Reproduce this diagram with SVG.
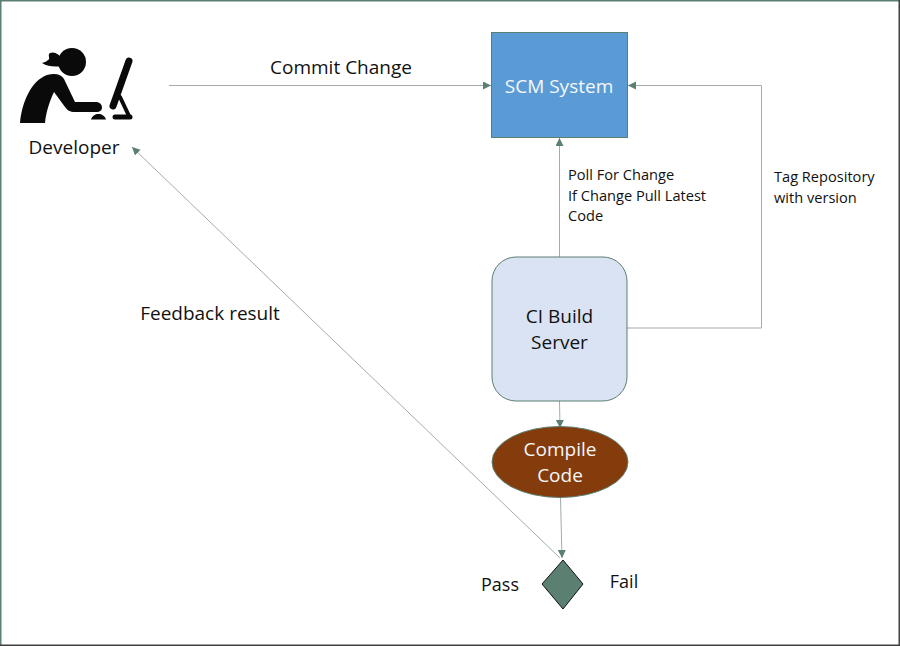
<svg xmlns="http://www.w3.org/2000/svg" width="900" height="646" viewBox="0 0 900 646">
<style>
text{font-family:"Open Sans","Noto Sans","Liberation Sans",sans-serif;text-anchor:middle;fill:#111}
.big{font-size:19px}
.label{font-size:18px}
.small{font-size:14.600px;text-anchor:start}
.w{fill:#f4f7fb;font-size:19px}
.c{fill:none;stroke:#a3abae;stroke-width:1;marker-end:url(#a)}
.fig{fill:#0a0a0a}
.figs{fill:none;stroke:#0a0a0a;stroke-linecap:round}
</style>
<defs><marker id="a" markerUnits="userSpaceOnUse" markerWidth="9" markerHeight="9" refX="8" refY="4" orient="auto"><path d="M0 0L8 4L0 8Z" fill="#5b7f71"/></marker></defs>
<rect x="0" y="0" width="900" height="646" fill="#fff"/>
<rect x="0" y="0" width="900" height="1.500" fill="#5b7f71"/>
<rect x="0" y="0" width="1.500" height="646" fill="#5b7f71"/>
<rect x="898.500" y="0" width="1.500" height="646" fill="#404040"/>
<rect x="0" y="644.500" width="900" height="1.500" fill="#404040"/>
<g id="connectors">
<path class="c" d="M169 85.500H491"/>
<path class="c" d="M559.500 257V138"/>
<path class="c" d="M627 328H761.500V85.500H628"/>
<path class="c" d="M559.500 401L560 428"/>
<path class="c" d="M560.500 498L562 558"/>
<path class="c" d="M560 558L132 147"/>
</g>
<g id="developer">
<circle class="fig" cx="72" cy="62" r="14"/>
<path class="fig" d="M62 60C60 54 54 51 50 53C47 55 51 59 48 60C46 62 44 62 42 63C48 67 56 67 62 66Z"/>
<path class="fig" d="M47 75C55 73 61 74 64 79L75 102H97C103 103 104 111 98 112H75C70 112 67 110 65 107L54 92C50 100 46 112 45 123H20C22 102 31 81 47 75Z"/>
<path class="fig" d="M91 119.500C93 112 104 112 106 119.500Z"/>
<path class="figs" d="M129 61L113 106" stroke-width="7"/>
<path class="figs" d="M120 97L129 116" stroke-width="4"/>
<path class="figs" d="M115 117H130" stroke-width="5"/>
<text class="big" x="74" y="154">Developer</text>
</g>
<g id="scm">
<rect x="491.500" y="32.500" width="136" height="105" fill="#5b9bd5" stroke="#5b7f71"/>
<text class="w" x="559" y="93">SCM System</text>
</g>
<g id="ci">
<rect x="492" y="257" width="135" height="144" rx="24" fill="#dae3f3" stroke="#5b7f71"/>
<text class="big" x="559.500" y="323">CI Build</text>
<text class="big" x="559.500" y="349">Server</text>
</g>
<g id="compile">
<ellipse cx="560" cy="462" rx="68" ry="35.500" fill="#843c0c" stroke="#5b7f71"/>
<text class="w" x="560" y="456">Compile</text>
<text class="w" x="560" y="482">Code</text>
</g>
<g id="decision">
<path d="M563 560L583 584L563 609L542 584Z" fill="#5b7f71" stroke="#111"/>
</g>
<g id="labels">
<text class="big" x="341" y="74">Commit Change</text>
<text class="small" x="568" y="180">Poll For Change</text>
<text class="small" x="568" y="201">If Change Pull Latest</text>
<text class="small" x="568" y="221">Code</text>
<text class="small" x="774" y="182">Tag Repository</text>
<text class="small" x="774" y="203">with version</text>
<text class="big" x="210" y="320">Feedback result</text>
<text class="label" x="500" y="591">Pass</text>
<text class="label" x="624" y="588">Fail</text>
</g>
</svg>
